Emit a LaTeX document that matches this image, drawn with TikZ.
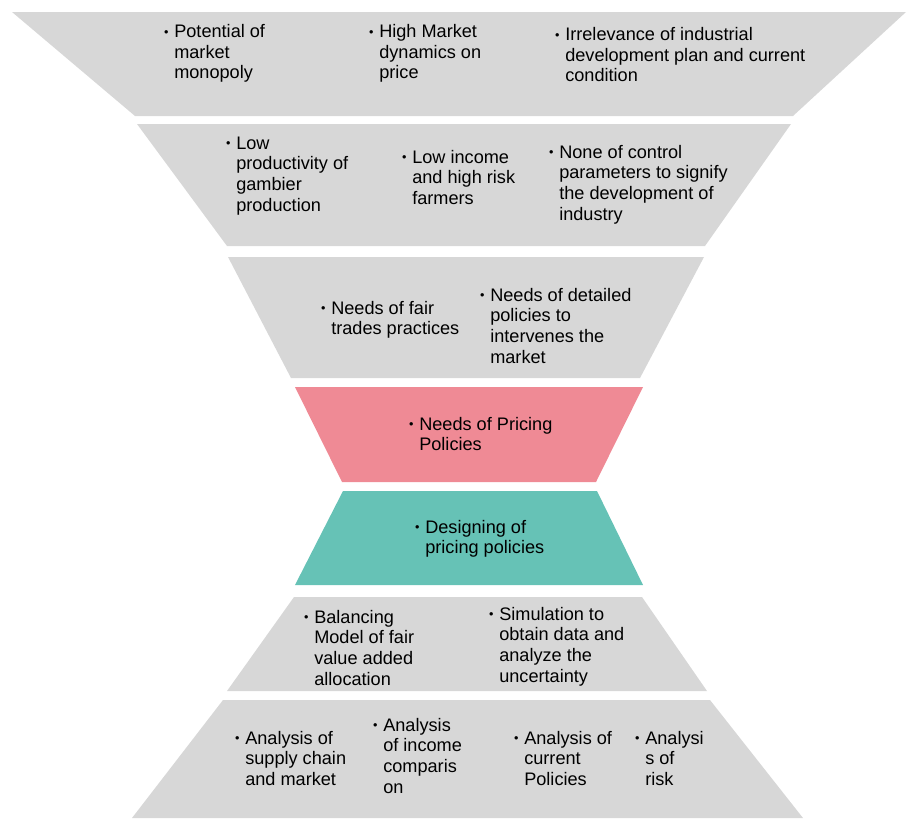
\documentclass[tikz,border=0pt]{standalone}
\usepackage{fontspec}
\setmainfont{Liberation Sans}
\usepackage{tikz}
\usetikzlibrary{positioning}

\definecolor{bandgray}{HTML}{D7D7D7}
\definecolor{bandpink}{HTML}{EF8A95}
\definecolor{bandteal}{HTML}{66C2B6}
\newcommand{\bulitem}[1]{\llap{\raisebox{1pt}{\fontsize{9}{9}\selectfont\textbullet}\hspace{4pt}}\parbox[t]{7cm}{\raggedright #1}}

\begin{document}
\begin{tikzpicture}[x=0.025cm, y=-0.025cm,
    itm/.style={anchor=base west, inner sep=0pt, font=\fontsize{12.9}{14.7}\selectfont}]
      \useasboundingbox (0,0) rectangle (908,818);
      \fill[bandgray] (12,12) -- (906,12) -- (793,116) -- (135,116) -- cycle; % top
      \fill[bandgray] (137,124) -- (791,124) -- (705,246) -- (227,246) -- cycle;
      \fill[bandgray] (228,257) -- (704,257) -- (640,378) -- (291,378) -- cycle;
      \fill[bandpink] (295,387) -- (643,387) -- (596,482) -- (342,482) -- cycle; % needs
      \fill[bandteal] (343,491) -- (597,491) -- (643,585) -- (295,585) -- cycle; % design
      \fill[bandgray] (294,597) -- (642,597) -- (707,691) -- (227,691) -- cycle;
      \fill[bandgray] (223,700) -- (710,700) -- (803,818) -- (132,818) -- cycle; % bottom

      \node[itm] (monopoly) at (174,37.5) {\bulitem{Potential of\\market\\monopoly}};
      \node[itm] (dynamics) at (379,37.5) {\bulitem{High Market\\dynamics on\\price}};
      \node[itm] (irrelevance) at (565,40.5) {\bulitem{Irrelevance of industrial\\development plan and current\\condition}};

      \node[itm] (productivity) at (236,149) {\bulitem{Low\\productivity of\\gambier\\production}};
      \node[itm] (income) at (412,163) {\bulitem{Low income\\and high risk\\farmers}};
      \node[itm] (control) at (559,158) {\bulitem{None of control\\parameters to signify\\the development of\\industry}};

      \node[itm] (fairtrade) at (331,314) {\bulitem{Needs of fair\\trades practices}};
      \node[itm] (detailed) at (490,301) {\bulitem{Needs of detailed\\policies to\\intervenes the\\market}};

      \node[itm] (needs) at (419,430) {\bulitem{Needs of Pricing\\Policies}};
      \node[itm] (designing) at (425,533) {\bulitem{Designing of\\pricing policies}};

      \node[itm] (balancing) at (314,623) {\bulitem{Balancing\\Model of fair\\value added\\allocation}};
      \node[itm] (simulation) at (499,620) {\bulitem{Simulation to\\obtain data and\\analyze the\\uncertainty}};

      \node[itm] (supply) at (245,744) {\bulitem{Analysis of\\supply chain\\and market}};
      \node[itm] (comparison) at (383,731) {\bulitem{Analysis\\of income\\comparis\\on}};
      \node[itm] (current) at (524,744) {\bulitem{Analysis of\\current\\Policies}};
      \node[itm] (risk) at (645,744) {\bulitem{Analysi\\s of\\risk}};
    \end{tikzpicture}
\end{document}
